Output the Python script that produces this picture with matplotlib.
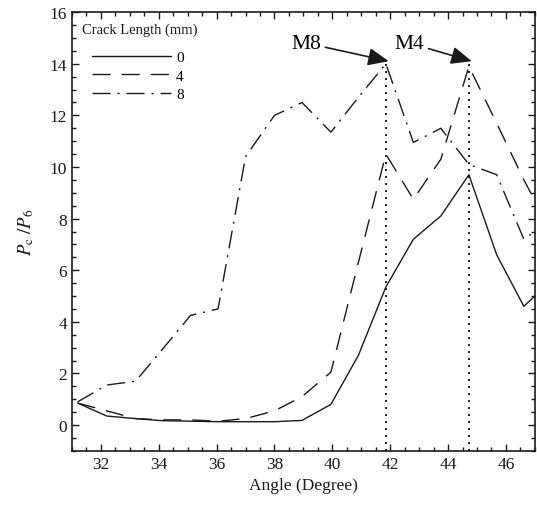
import matplotlib
matplotlib.use("Agg")
import matplotlib.pyplot as plt
from matplotlib.ticker import MultipleLocator

plt.rcParams["font.family"] = "Liberation Serif"
plt.rcParams["mathtext.fontset"] = "stix"

# data
angles = [31.2, 32.2, 33.2, 34.1, 35.1, 36.05, 37.0, 38.0, 38.95, 39.95,
          40.9, 41.85, 42.8, 43.75, 44.72, 45.68, 46.62, 47.0]
ratio_0mm = [0.85, 0.35, 0.25, 0.17, 0.15, 0.13, 0.13, 0.13, 0.18, 0.8,
             2.7, 5.35, 7.2, 8.1, 9.7, 6.6, 4.6, 5.0]
ratio_4mm = [0.85, 0.55, 0.25, 0.2, 0.2, 0.15, 0.25, 0.55, 1.1, 2.05,
             6.3, 10.5, 8.75, 10.3, 13.9, 11.7, 9.5, 8.7]
ratio_8mm = [0.9, 1.55, 1.7, 2.9, 4.25, 4.5, 10.4, 12.0, 12.5, 11.35,
             12.7, 14.0, 10.95, 11.5, 10.1, 9.7, 7.2, 7.5]
crack_labels = ["0", "4", "8"]
marker_angles = [41.85, 44.72]
marker_peaks = [14.0, 14.0]
marker_names = ["M8", "M4"]

fig = plt.figure(figsize=(5.37, 5.06), dpi=100)
ax = fig.add_axes([0.134, 0.107, 0.862, 0.867])

ink = "#1a1a1a"
styles = ["-", (0, (13, 8)), (0, (13, 5, 1.5, 5))]
for values, label, ls in zip([ratio_0mm, ratio_4mm, ratio_8mm], crack_labels, styles):
    ax.plot(angles, values, color=ink, linewidth=1.0, linestyle=ls, label=label)

for xa, peak in zip(marker_angles, marker_peaks):
    ax.plot([xa, xa], [-1, peak], color=ink, linewidth=1.4,
            linestyle=(0, (1, 2.6)))

text_offsets = [(-2.75, 0.8), (-2.05, 0.8)]
for xa, peak, name, (dx, dy) in zip(marker_angles, marker_peaks, marker_names, text_offsets):
    ax.annotate(name, xy=(xa + 0.1, peak + 0.1), xytext=(xa + dx, peak + dy),
                fontsize=15.5, ha="center", va="center",
                arrowprops=dict(arrowstyle="-|>,head_length=0.7,head_width=0.3",
                                color=ink, lw=1.2,
                                mutation_scale=18, shrinkA=1, shrinkB=0))

ax.set_xlim(31, 47)
ax.set_ylim(-1, 16)
ax.xaxis.set_major_locator(MultipleLocator(2))
ax.xaxis.set_minor_locator(MultipleLocator(0.5))
ax.yaxis.set_major_locator(MultipleLocator(2))
ax.yaxis.set_minor_locator(MultipleLocator(0.5))
ax.tick_params(which="both", direction="in", top=True, right=True,
               labelsize=12.5, colors=ink, width=1.0)
ax.tick_params(which="major", length=5)
ax.tick_params(which="minor", length=3)
for spine in ax.spines.values():
    spine.set_linewidth(1.2)
    spine.set_color(ink)

ax.set_xlabel("Angle (Degree)", fontsize=12.5, color=ink)
ax.set_ylabel(r"$P_\mathrm{c}\ /P_6$", fontsize=13.5, color=ink, labelpad=10)

ax.text(0.022, 0.961, "Crack Length (mm)", transform=ax.transAxes,
        fontsize=10.5, ha="left", va="center", color=ink)
ax.legend(loc="upper left", bbox_to_anchor=(0.043, 0.913), frameon=False,
          fontsize=11, handlelength=5.2, handletextpad=0.3,
          labelspacing=0.32, borderaxespad=0, borderpad=0)

fig.savefig("out.png", dpi=100)
